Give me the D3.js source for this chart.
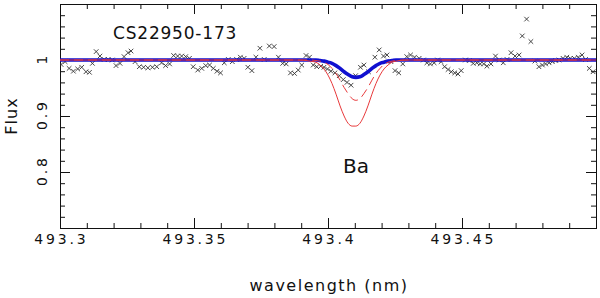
<!DOCTYPE html>
<html>
<head>
<meta charset="utf-8">
<script src="https://cdn.jsdelivr.net/npm/d3@7"></script>
<style>
  body { margin: 0; background: #fff; }
  text { font-family: "DejaVu Sans", sans-serif; fill: #111; }
</style>
</head>
<body>
<svg id="chart" width="600" height="298"></svg>
<script>
// observed spectrum (crosses)
const obsWave = [
  493.3004, 493.3019, 493.3034, 493.3050, 493.3066, 493.3081, 493.3097, 493.3110, 493.3121, 493.3135,
  493.3149, 493.3165, 493.3180, 493.3195, 493.3209, 493.3224, 493.3239, 493.3254, 493.3265, 493.3280,
  493.3296, 493.3312, 493.3328, 493.3345, 493.3361, 493.3379, 493.3394, 493.3409, 493.3424, 493.3439,
  493.3454, 493.3469, 493.3483, 493.3497, 493.3514, 493.3529, 493.3544, 493.3558, 493.3572, 493.3586,
  493.3599, 493.3613, 493.3628, 493.3643, 493.3659, 493.3673, 493.3687, 493.3701, 493.3716, 493.3731,
  493.3746, 493.3762, 493.3781, 493.3799, 493.3815, 493.3831, 493.3844, 493.3860, 493.3875, 493.3889,
  493.3902, 493.3918, 493.3931, 493.3945, 493.3958, 493.3973, 493.3985, 493.3998, 493.4011, 493.4026,
  493.4042, 493.4057, 493.4071, 493.4086, 493.4103, 493.4121, 493.4134, 493.4151, 493.4175, 493.4191,
  493.4207, 493.4220, 493.4235, 493.4250, 493.4264, 493.4279, 493.4294, 493.4308, 493.4323, 493.4340,
  493.4356, 493.4369, 493.4382, 493.4396, 493.4409, 493.4422, 493.4435, 493.4448, 493.4460, 493.4473,
  493.4485, 493.4497, 493.4513, 493.4527, 493.4542, 493.4555, 493.4568, 493.4581, 493.4593, 493.4608,
  493.4625, 493.4639, 493.4654, 493.4668, 493.4683, 493.4698, 493.4713, 493.4725, 493.4741, 493.4757,
  493.4772, 493.4787, 493.4800, 493.4812, 493.4825, 493.4837, 493.4850, 493.4862, 493.4877, 493.4891,
  493.4904, 493.4919, 493.4934, 493.4948, 493.4961, 493.4975, 493.4989
];
const obsFlux = [
  0.992, 0.997, 0.985, 0.980, 0.984, 0.987, 0.979, 0.978, 0.994, 1.015,
  1.007, 1.001, 1.001, 1.000, 0.990, 0.994, 1.006, 1.013, 1.016, 0.997,
  0.988, 0.987, 0.986, 0.987, 0.988, 0.995, 0.990, 0.993, 1.008, 1.007,
  1.007, 1.006, 1.003, 0.988, 0.982, 0.985, 0.990, 0.991, 0.985, 0.980,
  0.977, 0.995, 1.001, 0.997, 1.001, 1.005, 1.003, 0.987, 0.981, 1.005,
  1.021, 1.001, 1.025, 1.024, 1.005, 0.994, 0.993, 0.977, 0.976, 0.982,
  0.991, 1.008, 1.005, 0.991, 0.988, 0.989, 0.987, 0.984, 0.980, 0.977,
  0.972, 0.965, 0.960, 0.955, 0.972, 0.987, 0.991, 0.979, 1.005, 1.018,
  1.007, 1.009, 0.997, 0.981, 0.977, 0.993, 1.006, 1.009, 1.005, 1.003,
  1.000, 0.995, 0.993, 0.995, 1.000, 0.997, 0.988, 0.983, 0.979, 0.977,
  0.975, 0.981, 1.000, 0.999, 0.994, 0.995, 0.993, 0.993, 0.989, 0.993,
  1.007, 1.000, 0.995, 1.001, 1.013, 1.007, 1.009, 1.043, 1.073, 1.033,
  0.998, 0.988, 0.991, 0.993, 0.995, 0.997, 0.999, 1.000, 1.003, 1.005,
  1.003, 1.003, 1.005, 1.009, 1.001, 0.985, 0.979
];

// synthetic spectra around the Ba line
const modelWave = [
  493.3000, 493.3881, 493.3910, 493.3933, 493.3955, 493.3970, 493.3985, 493.4000, 493.4015, 493.4030,
  493.4045, 493.4060, 493.4075, 493.4090, 493.4104, 493.4119, 493.4134, 493.4149, 493.4164, 493.4179,
  493.4194, 493.4209, 493.4224, 493.4239, 493.4254, 493.4276, 493.4299, 493.4328, 493.5000
];
const bestFlux = [
  1.000, 1.000, 1.000, 1.000, 1.000, 0.999, 0.998, 0.996, 0.994, 0.990,
  0.985, 0.979, 0.974, 0.970, 0.969, 0.970, 0.974, 0.979, 0.985, 0.990,
  0.994, 0.996, 0.998, 0.999, 1.000, 1.000, 1.000, 1.000, 1.000
];
const midFlux = [
  1.000, 1.000, 1.000, 1.000, 0.999, 0.998, 0.996, 0.992, 0.985, 0.976,
  0.964, 0.951, 0.940, 0.931, 0.928, 0.931, 0.940, 0.951, 0.964, 0.976,
  0.985, 0.992, 0.996, 0.998, 0.999, 1.000, 1.000, 1.000, 1.000
];
const strongFlux = [
  1.000, 1.000, 0.9995, 0.998, 0.996, 0.991, 0.984, 0.973, 0.958, 0.939,
  0.918, 0.900, 0.887, 0.882, 0.882, 0.887, 0.900, 0.918, 0.939, 0.958,
  0.973, 0.984, 0.991, 0.996, 0.998, 0.9995, 1.000, 1.000, 1.000
];

const xMajorTicks = [493.3, 493.35, 493.4, 493.45, 493.5];
const xTickLabels = ["493.3", "493.35", "493.4", "493.45", ""];
const yMajorTicks = [0.7, 0.8, 0.9, 1.0, 1.1];
const yTickLabels = ["", "0.8", "0.9", "1", ""];

const W = 600, H = 298;
const margin = {top: 4, right: 4, bottom: 70, left: 60};

const svg = d3.select("#chart");

const x = d3.scaleLinear().domain([493.3, 493.5]).range([margin.left, W - margin.right]);
const y = d3.scaleLinear().domain([0.7, 1.1]).range([H - margin.bottom, margin.top]);

const xMinor = d3.range(0, 21).map(i => 493.3 + i * 0.01);
const yMinor = d3.range(0, 21).map(i => 0.7 + i * 0.02);

svg.append("defs").append("clipPath").attr("id", "plot-clip")
  .append("rect")
  .attr("x", margin.left).attr("y", margin.top)
  .attr("width", W - margin.left - margin.right)
  .attr("height", H - margin.top - margin.bottom);

// ticks on all four sides, pointing inward
function tickAxis(axisFn, scale, values, size, transform) {
  svg.append("g")
    .attr("transform", transform)
    .call(axisFn(scale).tickValues(values).tickSize(size).tickFormat(""))
    .call(g => g.select(".domain").remove())
    .selectAll("line").attr("stroke", "#111");
}
const bottomY = y(0.7), topY = y(1.1), leftX = x(493.3), rightX = x(493.5);
tickAxis(d3.axisBottom, x, xMinor, -5, `translate(0,${bottomY})`);
tickAxis(d3.axisBottom, x, xMajorTicks, -10, `translate(0,${bottomY})`);
tickAxis(d3.axisTop, x, xMinor, -5, `translate(0,${topY})`);
tickAxis(d3.axisTop, x, xMajorTicks, -10, `translate(0,${topY})`);
tickAxis(d3.axisLeft, y, yMinor, -5, `translate(${leftX},0)`);
tickAxis(d3.axisLeft, y, yMajorTicks, -10, `translate(${leftX},0)`);
tickAxis(d3.axisRight, y, yMinor, -5, `translate(${rightX},0)`);
tickAxis(d3.axisRight, y, yMajorTicks, -10, `translate(${rightX},0)`);

svg.append("rect")
  .attr("x", leftX + 0.5).attr("y", topY + 0.5)
  .attr("width", rightX - leftX).attr("height", bottomY - topY)
  .attr("fill", "none").attr("stroke", "#111").attr("stroke-width", 1);

// tick labels
const tickFont = 14, tickSpacing = 2.8;
svg.append("g").selectAll("text")
  .data(xMajorTicks.map((v, i) => ({v, label: xTickLabels[i]})).filter(d => d.label))
  .join("text")
  .attr("x", d => x(d.v))
  .attr("y", bottomY + 15.5)
  .attr("dx", tickSpacing / 2)
  .attr("text-anchor", "middle")
  .style("font-size", tickFont + "px")
  .style("letter-spacing", tickSpacing + "px")
  .text(d => d.label);

svg.append("g").selectAll("text")
  .data(yMajorTicks.map((v, i) => ({v, label: yTickLabels[i]})).filter(d => d.label))
  .join("text")
  .attr("transform", d => `translate(${leftX - 13},${y(d.v)}) rotate(-90)`)
  .attr("dx", tickSpacing / 2)
  .attr("text-anchor", "middle")
  .style("font-size", tickFont + "px")
  .style("letter-spacing", tickSpacing + "px")
  .text(d => d.label);

// axis titles
svg.append("text")
  .attr("x", (leftX + rightX) / 2 + 1)
  .attr("y", 291)
  .attr("text-anchor", "middle")
  .style("font-size", "16px")
  .style("letter-spacing", "1.5px")
  .text("wavelength (nm)");

svg.append("text")
  .attr("transform", `translate(17,${(topY + bottomY) / 2}) rotate(-90)`)
  .attr("text-anchor", "middle")
  .style("font-size", "16px")
  .style("letter-spacing", "1px")
  .text("Flux");

const plot = svg.append("g").attr("clip-path", "url(#plot-clip)");

// observed points
plot.append("g").selectAll("path")
  .data(obsWave.map((w, i) => [w, obsFlux[i]]))
  .join("path")
  .attr("transform", d => `translate(${x(d[0])},${y(d[1])})`)
  .attr("d", "M-2.3,-2.3L2.3,2.3M-2.3,2.3L2.3,-2.3")
  .attr("stroke", "#333")
  .attr("stroke-width", 0.9)
  .attr("fill", "none");

const line = d3.line()
  .x(d => x(d[0]))
  .y(d => y(d[1]))
  .curve(d3.curveMonotoneX);

function addModel(flux, color, width, dash) {
  plot.append("path")
    .datum(modelWave.map((w, i) => [w, flux[i]]))
    .attr("d", line)
    .attr("fill", "none")
    .attr("stroke", color)
    .attr("stroke-width", width)
    .attr("stroke-dasharray", dash);
}
addModel(bestFlux, "#1010d0", 3.6, null);
addModel(strongFlux, "#e8383a", 1, null);
addModel(midFlux, "#e8383a", 1, "9,5");

// labels inside the plot
svg.append("text")
  .attr("x", 113).attr("y", 39)
  .style("font-size", "17px")
  .style("letter-spacing", "0.8px")
  .text("CS22950-173");

svg.append("text")
  .attr("x", 343).attr("y", 173)
  .style("font-size", "20px")
  .text("Ba");
</script>
</body>
</html>
